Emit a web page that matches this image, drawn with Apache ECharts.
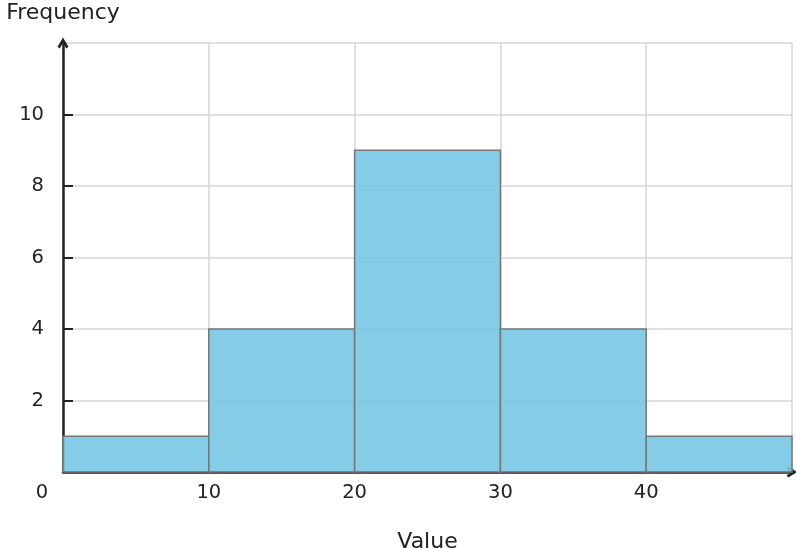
<!DOCTYPE html>
<html>
<head>
<meta charset="utf-8">
<script src="https://cdn.jsdelivr.net/npm/echarts@6/dist/echarts.min.js"></script>
<style>html,body{margin:0;padding:0;background:#fff;}#chart{width:796px;height:548px;}</style>
</head>
<body>
<div id="chart"></div>
<script>
var binStarts = [0, 10, 20, 30, 40];
var binEnds = [10, 20, 30, 40, 50];
var counts = [1, 4, 9, 4, 1];
var xTicks = [0, 10, 20, 30, 40, 50];
var yTicks = [0, 2, 4, 6, 8, 10, 12];

var data = binStarts.map(function (s, i) { return [s, binEnds[i], counts[i]]; });
var chevron = 'path://M5,0 L10,8.4 L7.9,9.8 L5,4.6 L2.1,9.8 L0,8.4 Z';
var font = 'DejaVu Sans';
var chart = echarts.init(document.getElementById('chart'));
chart.setOption({
  animation: false,
  grid: { left: 63, right: 4, top: 43, bottom: 76, outerBoundsMode: 'none', containLabel: false },
  xAxis: {
    type: 'value', min: 0, max: 50, interval: 10,
    name: 'Value', nameLocation: 'middle', nameGap: 59,
    nameTextStyle: { fontFamily: font, fontSize: 22, color: '#222' },
    axisLine: { show: true, lineStyle: { color: '#222', width: 2.5 }, symbol: ['none', chevron], symbolSize: [11, 11], symbolOffset: [0, 0] },
    axisTick: { show: false },
    splitLine: { show: true, lineStyle: { color: '#d6d6d6', width: 1.5 } },
    axisLabel: {
      fontFamily: font, fontSize: 19.5, color: '#222', margin: 11, showMaxLabel: false,
      formatter: function (v) { return v === 0 ? '{o|0}' : String(v); },
      rich: { o: { fontFamily: font, fontSize: 19.5, color: '#222', padding: [0, 42, 0, 0] } }
    }
  },
  yAxis: {
    type: 'value', min: 0, max: 12, interval: 2,
    name: 'Frequency', nameLocation: 'end', nameGap: 19,
    nameTextStyle: { fontFamily: font, fontSize: 22, color: '#222' },
    axisLine: { show: true, lineStyle: { color: '#222', width: 2.5 }, symbol: ['none', chevron], symbolSize: [11, 11] },
    axisTick: { show: true, inside: true, length: 10, lineStyle: { color: '#222', width: 2 } },
    splitLine: { show: true, lineStyle: { color: '#d6d6d6', width: 1.5 } },
    axisLabel: { fontFamily: font, fontSize: 19.5, color: '#222', margin: 19, showMinLabel: false, showMaxLabel: false }
  },
  series: [{
    type: 'custom',
    z: 3,
    data: data,
    encode: { x: [0, 1], y: 2 },
    renderItem: function (params, api) {
      var p0 = api.coord([api.value(0), 0]);
      var p1 = api.coord([api.value(1), api.value(2)]);
      return {
        type: 'rect',
        shape: { x: p0[0], y: p1[1], width: p1[0] - p0[0], height: p0[1] - p1[1] },
        style: { fill: 'rgba(120,200,228,0.9)', stroke: '#777', lineWidth: 1.5 }
      };
    }
  }]
});
</script>
</body>
</html>
